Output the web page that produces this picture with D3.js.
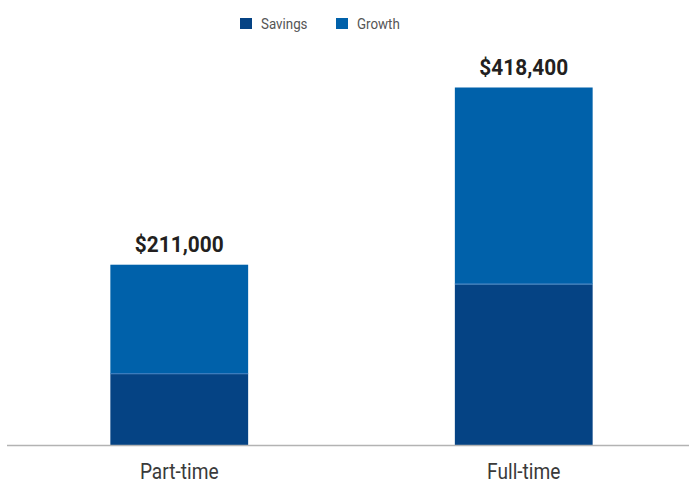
<!DOCTYPE html>
<html>
<head>
<meta charset="utf-8">
<script src="https://cdn.jsdelivr.net/npm/d3@7"></script>
<style>
  body { margin: 0; background: #fff; }
  svg text { font-family: "Roboto", "Open Sans", sans-serif; }
</style>
</head>
<body>
<div id="chart"></div>
<script>
// data
var categories = ['Part-time', 'Full-time'];
var savings = [83000, 188000];
var growth = [128000, 230400];
var totalLabels = ['$211,000', '$418,400'];
var seriesNames = ['Savings', 'Growth'];
var seriesColors = ['#054384', '#0061aa'];

var width = 689, height = 483;
var baseline = 445;

var svg = d3.select('#chart').append('svg')
    .attr('width', width)
    .attr('height', height);

var x = d3.scaleBand()
    .domain(categories)
    .range([7, 689 + 7])
    .paddingInner(0.6)
    .paddingOuter(0.3);

var y = d3.scaleLinear()
    .domain([0, 418400])
    .range([baseline, 87.5]);

var rows = categories.map(function(c, i) {
  return { cat: c, Savings: savings[i], Growth: growth[i] };
});
var stacked = d3.stack().keys(seriesNames)(rows);

//bars
svg.selectAll('.series')
  .data(stacked)
  .enter().append('g')
    .attr('class', 'series')
    .attr('fill', function(d, i) { return seriesColors[i]; })
  .selectAll('rect')
  .data(function(d) { return d; })
  .enter().append('rect')
    .attr('x', function(d) { return x(d.data.cat); })
    .attr('width', x.bandwidth())
    .attr('y', function(d) { return y(d[1]); })
    .attr('height', function(d) { return y(d[0]) - y(d[1]); });

// thin light line between segments
svg.selectAll('.sep')
  .data(rows)
  .enter().append('line')
    .attr('x1', function(d) { return x(d.cat); })
    .attr('x2', function(d) { return x(d.cat) + x.bandwidth(); })
    .attr('y1', function(d) { return y(d.Savings) - 0.5; })
    .attr('y2', function(d) { return y(d.Savings) - 0.5; })
    .attr('stroke', '#3f7fc0')
    .attr('stroke-width', 1);

//axis line
svg.append('line')
    .attr('x1', 7).attr('x2', width)
    .attr('y1', baseline + 0.5).attr('y2', baseline + 0.5)
    .attr('stroke', '#b3b3b3')
    .attr('stroke-width', 1.5);

//total labels
svg.selectAll('.total')
  .data(rows)
  .enter().append('text')
    .attr('class', 'total')
    .attr('transform', function(d) {
      return 'translate(' + (x(d.cat) + x.bandwidth() / 2) + ',' + (y(d.Savings + d.Growth) - 13) + ') scale(0.97,1)';
    })
    .attr('text-anchor', 'middle')
    .attr('font-size', 21.5)
    .attr('font-weight', 'bold')
    .attr('fill', '#231f20')
    .text(function(d, i) { return totalLabels[i]; });

//category labels
svg.selectAll('.cat')
  .data(categories)
  .enter().append('text')
    .attr('class', 'cat')
    .attr('transform', function(d) {
      return 'translate(' + (x(d) + x.bandwidth() / 2) + ',479) scale(0.87,1)';
    })
    .attr('text-anchor', 'middle')
    .attr('font-size', 22)
    .attr('fill', '#3a3a3a')
    .text(function(d) { return d; });

//legend
var legend = svg.append('g').attr('class', 'legend');
var legendX = [240, 336];
seriesNames.forEach(function(name, i) {
  legend.append('rect')
      .attr('x', legendX[i]).attr('y', 18)
      .attr('width', 12).attr('height', 11)
      .attr('fill', seriesColors[i]);
  legend.append('text')
      .attr('transform', 'translate(' + (legendX[i] + 21) + ',29) scale(0.92,1)')
      .attr('font-size', 14.5)
      .attr('fill', '#555')
      .text(name);
});
</script>
</body>
</html>
